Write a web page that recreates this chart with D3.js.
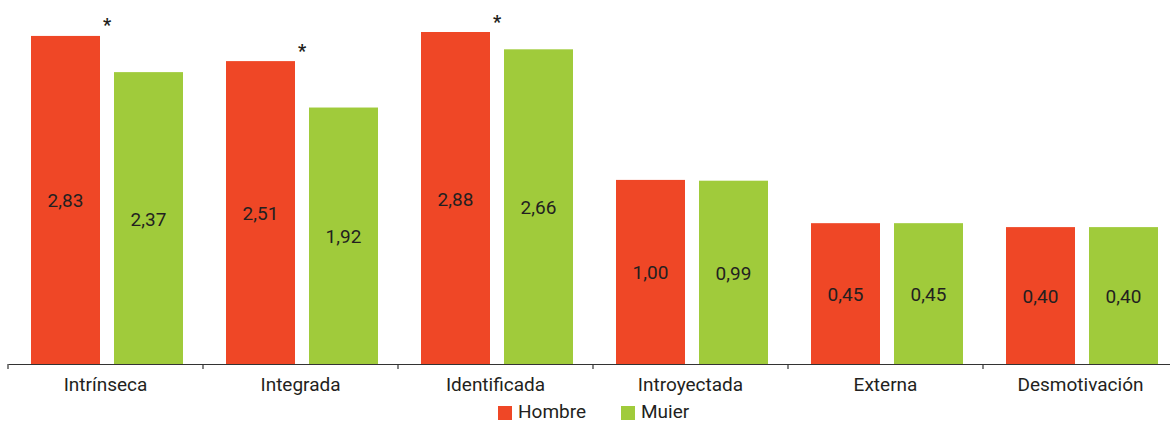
<!DOCTYPE html>
<html><head><meta charset="utf-8">
<script src="https://cdn.jsdelivr.net/npm/d3@7"></script>
<style>body{margin:0;background:#fff}svg{display:block}text{font-family:Roboto,"DejaVu Sans",sans-serif}</style>
</head><body><svg id="c" width="1170" height="423"></svg>
<script>
const categories = ["Intrínseca","Integrada","Identificada","Introyectada","Externa","Desmotivación"];
const hombre = [2.83, 2.51, 2.88, 1.00, 0.45, 0.40];
const mujer  = [2.37, 1.92, 2.66, 0.99, 0.45, 0.40];
const significant = [true, true, true, false, false, false];
const seriesNames = ["Hombre","Muier"];
const colors = ["#ef4726","#a0cb3b"];
const yMin = -1.34, yMax = 2.88;

const svg = d3.select("#c");
const baseY = 364;
const x0 = d3.scaleBand().domain(categories).range([8, 1178]).paddingInner(0).paddingOuter(0);
const x1 = d3.scaleBand().domain(seriesNames).range([23, 175]).paddingInner(14/83).paddingOuter(0);
const y = d3.scaleLinear().domain([yMin, yMax]).range([baseY, 32]);
const fmt = v => d3.format(".2f")(v).replace(".", ",");

const data = categories.map((c,i)=>({cat:c, sig:significant[i], vals:[hombre[i], mujer[i]]}));
const g = svg.selectAll("g.cat").data(data).join("g").attr("class","cat")
  .attr("transform", d=>`translate(${x0(d.cat)},0)`);
g.selectAll("rect").data(d=>d.vals.map((v,j)=>({v, s:seriesNames[j], j})))
  .join("rect")
  .attr("x", d=>x1(d.s)).attr("width", x1.bandwidth())
  .attr("y", d=>y(d.v)).attr("height", d=>baseY - y(d.v))
  .attr("fill", d=>colors[d.j]);
g.selectAll("text.val").data(d=>d.vals.map((v,j)=>({v, s:seriesNames[j]})))
  .join("text").attr("class","val")
  .attr("x", d=>x1(d.s)+x1.bandwidth()/2)
  .attr("y", d=>(y(d.v)+baseY)/2 + 1)
  .attr("text-anchor","middle").attr("dominant-baseline","central")
  .attr("font-size",19).attr("fill","#231f20")
  .text(d=>fmt(d.v));
g.filter(d=>d.sig).append("text")
  .attr("x", x1(seriesNames[1]) - 7)
  .attr("y", d=>y(d.vals[0]) - 15)
  .attr("text-anchor","middle").attr("dominant-baseline","central")
  .attr("font-size",18).attr("font-weight","bold").attr("fill","#231f20")
  .attr("dy", 4)
  .text("*");

// axis
const axis = d3.axisBottom(x0).tickSize(0).tickPadding(14);
const ax = svg.append("g").attr("transform",`translate(0,${baseY})`).call(axis);
ax.select(".domain").attr("stroke","#333").attr("stroke-width",1.2);
ax.selectAll(".tick text").attr("font-size",19).attr("fill","#231f20").attr("font-family","Roboto,sans-serif");
ax.selectAll("line.sep").data(categories).join("line").attr("class","sep")
  .attr("x1", d=>x0(d)).attr("x2", d=>x0(d)).attr("y1",0).attr("y2",5)
  .attr("stroke","#333").attr("stroke-width",1.2);

// legend
const legend = svg.append("g");
const lx = [498, 621];
seriesNames.forEach((s,j)=>{
  legend.append("rect").attr("x",lx[j]).attr("y",406).attr("width",14).attr("height",14).attr("fill",colors[j]);
  legend.append("text").attr("x",lx[j]+20).attr("y",418).attr("font-size",19).attr("fill","#231f20").text(s);
});
</script></body></html>
